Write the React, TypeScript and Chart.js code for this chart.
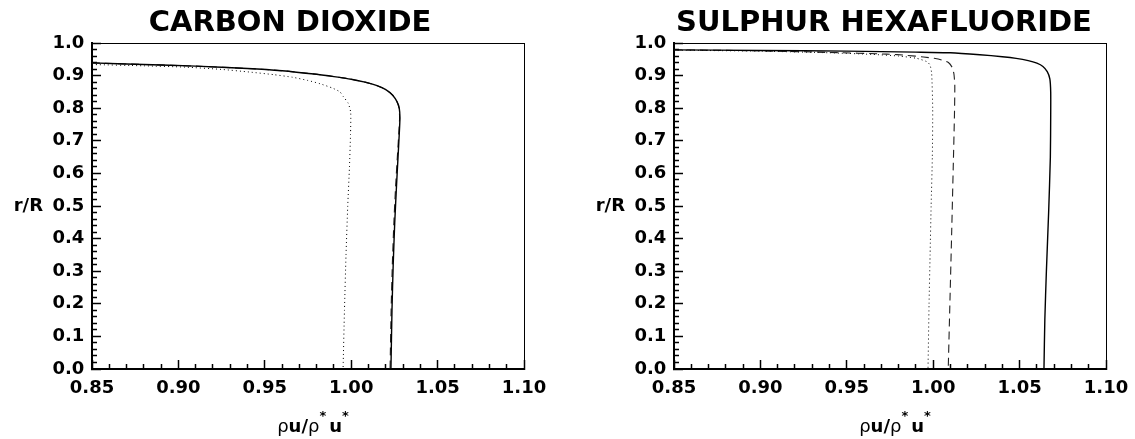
import React, { useEffect, useRef } from "react";
import { Chart, registerables } from "chart.js";

Chart.register(...registerables);

// ---------- tick labels ----------
const xMajorTicks = [0.85, 0.9, 0.95, 1.0, 1.05, 1.1];
const xTickLabels = ["0.85", "0.90", "0.95", "1.00", "1.05", "1.10"];
const yMajorTicks = [0, 0.1, 0.2, 0.3, 0.4, 0.5, 0.6, 0.7, 0.8, 0.9, 1.0];
const yTickLabels = ["0.0", "0.1", "0.2", "0.3", "0.4", "0.5", "0.6", "0.7", "0.8", "0.9", "1.0"];

// ---------- CARBON DIOXIDE ----------
const co2SolidX = [0.85, 0.88, 0.91, 0.94, 0.96, 0.98, 0.99, 1.0, 1.008, 1.015, 1.02, 1.024, 1.0265, 1.0278, 1.0282, 1.0278, 1.0271, 1.0262, 1.0252, 1.0243, 1.0236, 1.023];
const co2SolidR = [0.939, 0.934, 0.929, 0.922, 0.915, 0.904, 0.897, 0.889, 0.88, 0.869, 0.857, 0.84, 0.82, 0.8, 0.77, 0.72, 0.65, 0.56, 0.45, 0.32, 0.18, 0.0];
const co2DashedX = [0.85, 0.88, 0.91, 0.94, 0.96, 0.98, 0.99, 1.0, 1.008, 1.015, 1.02, 1.024, 1.0265, 1.0277, 1.028, 1.0275, 1.0267, 1.0257, 1.0247, 1.0238, 1.0231, 1.0225];
const co2DashedR = [0.939, 0.934, 0.929, 0.922, 0.915, 0.904, 0.897, 0.889, 0.88, 0.869, 0.857, 0.84, 0.82, 0.8, 0.77, 0.72, 0.65, 0.56, 0.45, 0.32, 0.18, 0.0];
const co2DottedX = [0.85, 0.88, 0.904, 0.925, 0.941, 0.955, 0.966, 0.975, 0.982, 0.989, 0.9935, 0.9955, 0.9983, 0.9997, 0.9996, 0.999, 0.998, 0.997, 0.9961, 0.9953];
const co2DottedR = [0.934, 0.93, 0.926, 0.919, 0.911, 0.903, 0.895, 0.885, 0.875, 0.862, 0.85, 0.835, 0.815, 0.787, 0.72, 0.62, 0.5, 0.35, 0.18, 0.0];

// ---------- SULPHUR HEXAFLUORIDE ----------
const sf6SolidX = [0.85, 0.9, 0.95, 0.99, 1.01, 1.027, 1.04, 1.048, 1.055, 1.06, 1.0635, 1.066, 1.0675, 1.068, 1.068, 1.0678, 1.0668, 1.0655, 1.0646, 1.0641];
const sf6SolidR = [0.979, 0.977, 0.975, 0.972, 0.97, 0.964, 0.958, 0.953, 0.946, 0.938, 0.928, 0.912, 0.89, 0.85, 0.78, 0.65, 0.48, 0.3, 0.15, 0.0];
const sf6DashedX = [0.85, 0.9, 0.94, 0.973, 0.985, 0.9944, 1.0005, 1.0049, 1.0088, 1.011, 1.012, 1.0125, 1.0123, 1.0116, 1.0107, 1.0097, 1.0087];
const sf6DashedR = [0.979, 0.976, 0.971, 0.966, 0.962, 0.957, 0.953, 0.948, 0.94, 0.925, 0.905, 0.87, 0.78, 0.62, 0.42, 0.21, 0.0];
const sf6DottedX = [0.85, 0.9, 0.94, 0.965, 0.98, 0.9904, 0.9962, 0.9981, 0.9991, 0.9997, 0.9995, 0.9988, 0.9982, 0.9976, 0.997];
const sf6DottedR = [0.978, 0.975, 0.97, 0.965, 0.96, 0.953, 0.943, 0.933, 0.907, 0.8, 0.65, 0.5, 0.35, 0.2, 0.0];

const FONT = "DejaVu Sans";

type Panel = {
  title: string;
  canvasLeft: number;
  canvasWidth: number;
  plotLeft: number;
  plotRight: number;
  solid: [number[], number[]];
  dashed: [number[], number[]];
  dotted: [number[], number[]];
};

// The title is centred over the whole canvas; the canvas width is chosen so
// that the centre matches the reference, and a zero-drawing right axis pads the plot.
const panels: Panel[] = [
  {
    title: "CARBON DIOXIDE",
    canvasLeft: 0,
    canvasWidth: 580,
    plotLeft: 92,
    plotRight: 524,
    solid: [co2SolidX, co2SolidR],
    dashed: [co2DashedX, co2DashedR],
    dotted: [co2DottedX, co2DottedR],
  },
  {
    title: "SULPHUR HEXAFLUORIDE",
    canvasLeft: 580,
    canvasWidth: 608,
    plotLeft: 674,
    plotRight: 1106,
    solid: [sf6SolidX, sf6SolidR],
    dashed: [sf6DashedX, sf6DashedR],
    dotted: [sf6DottedX, sf6DottedR],
  },
];

const HEIGHT = 439;
const PLOT_BOTTOM = 369;

const toPoints = (xs: number[], ys: number[]) => xs.map((x, i) => ({ x, y: ys[i] }));
const isMajor = (v: number, majors: number[]) => majors.some((m) => Math.abs(m - v) < 1e-6);

const labelPlugin = {
  id: "axisLabels",
  afterDraw(chart: any) {
    const { ctx, chartArea, scales } = chart;
    ctx.save();
    ctx.fillStyle = "#000";
    // y label
    ctx.font = `bold 18px ${FONT}`;
    ctx.textAlign = "right";
    ctx.textBaseline = "middle";
    ctx.fillText("r/R", chartArea.left - 49, scales.y.getPixelForValue(0.5));
    // x label: ρu/ρ*u*
    const base = 432;
    const parts = [
      { t: "ρ", f: `18px ${FONT}`, dy: 0, gap: 0 },
      { t: "u/", f: `bold 18px ${FONT}`, dy: 0, gap: 0 },
      { t: "ρ", f: `18px ${FONT}`, dy: 0, gap: 0 },
      { t: "*", f: `bold 13px ${FONT}`, dy: -12, gap: 3 },
      { t: "u", f: `bold 18px ${FONT}`, dy: 0, gap: 0 },
      { t: "*", f: `bold 13px ${FONT}`, dy: -12, gap: 0 },
    ];
    let total = 0;
    const widths = parts.map((p) => {
      ctx.font = p.f;
      const w = ctx.measureText(p.t).width;
      total += w + p.gap;
      return w;
    });
    let x = (chartArea.left + chartArea.right) / 2 + 5 - total / 2;
    ctx.textAlign = "left";
    ctx.textBaseline = "alphabetic";
    parts.forEach((p, i) => {
      ctx.font = p.f;
      ctx.fillText(p.t, x, base + p.dy);
      x += widths[i] + p.gap;
    });
    ctx.restore();
  },
};

function PanelChart({ panel }: { panel: Panel }) {
  const ref = useRef<HTMLCanvasElement | null>(null);
  useEffect(() => {
    if (!ref.current) return;
    const W = panel.canvasWidth;
    const yWidth = panel.plotLeft - panel.canvasLeft;
    const rightWidth = W - (panel.plotRight - panel.canvasLeft);

    const chart = new Chart(ref.current, {
      type: "scatter",
      data: {
        datasets: [
          {
            label: "solid",
            data: toPoints(panel.solid[0], panel.solid[1]),
            showLine: true,
            borderColor: "#000",
            borderWidth: 1.4,
            pointRadius: 0,
            tension: 0.2,
            fill: false,
          },
          {
            label: "dashed",
            data: toPoints(panel.dashed[0], panel.dashed[1]),
            showLine: true,
            borderColor: "#222",
            borderWidth: 1.1,
            borderDash: [8, 5],
            pointRadius: 0,
            tension: 0.2,
            fill: false,
          },
          {
            label: "dotted",
            data: toPoints(panel.dotted[0], panel.dotted[1]),
            showLine: true,
            borderColor: "#000",
            borderWidth: 1,
            borderDash: [1, 3],
            pointRadius: 0,
            tension: 0.2,
            fill: false,
          },
        ],
      },
      options: {
        animation: false,
        responsive: false,
        devicePixelRatio: 1,
        events: [],
        layout: { padding: 0 },
        plugins: {
          legend: { display: false },
          tooltip: { enabled: false },
          title: {
            display: true,
            text: panel.title,
            color: "#000",
            font: { family: FONT, size: 29, weight: "bold", lineHeight: 1.2 },
            padding: { top: 6, bottom: 2.2 },
          },
        },
        scales: {
          x: {
            type: "linear",
            position: "bottom",
            min: 0.85,
            max: 1.1,
            afterFit: (s: any) => {
              s.height = HEIGHT - PLOT_BOTTOM;
            },
            border: { display: true, color: "#000", width: 2 },
            grid: {
              display: true,
              drawOnChartArea: false,
              drawTicks: true,
              tickLength: -9,
              tickColor: "#000",
              tickWidth: 1.5,
              tickBorderDash: (ctx: any) => (isMajor(ctx.tick?.value ?? 0, xMajorTicks) ? [] : [6, 100]),
            },
            ticks: {
              stepSize: 0.01,
              autoSkip: false,
              maxRotation: 0,
              minRotation: 0,
              padding: 17.8,
              color: "#000",
              font: { family: FONT, size: 18, weight: "bold" },
              callback: (v: any) => {
                const i = xMajorTicks.findIndex((m) => Math.abs(m - Number(v)) < 1e-6);
                return i >= 0 ? xTickLabels[i] : "";
              },
            },
          },
          y: {
            type: "linear",
            position: "left",
            min: 0,
            max: 1,
            afterFit: (s: any) => {
              s.width = yWidth;
            },
            border: { display: true, color: "#000", width: 2 },
            grid: {
              display: true,
              drawOnChartArea: false,
              drawTicks: true,
              tickLength: -9,
              tickColor: "#000",
              tickWidth: 1.5,
              tickBorderDash: (ctx: any) => (isMajor(ctx.tick?.value ?? 0, yMajorTicks) ? [] : [0, 4, 6, 100]),
            },
            ticks: {
              stepSize: 0.02,
              autoSkip: false,
              padding: 16.7,
              color: "#000",
              font: { family: FONT, size: 18, weight: "bold" },
              callback: (v: any) => {
                const i = yMajorTicks.findIndex((m) => Math.abs(m - Number(v)) < 1e-6);
                return i >= 0 ? yTickLabels[i] : "";
              },
            },
          },
          xTop: {
            type: "linear",
            position: "top",
            min: 0.85,
            max: 1.1,
            afterFit: (s: any) => {
              s.height = 0;
            },
            border: { display: true, color: "#000", width: 1 },
            grid: { display: false, drawTicks: false },
            ticks: { display: false },
          },
          yRight: {
            type: "linear",
            position: "right",
            min: 0,
            max: 1,
            afterFit: (s: any) => {
              s.width = rightWidth;
            },
            border: { display: true, color: "#000", width: 1 },
            grid: { display: false, drawTicks: false },
            ticks: { display: false },
          },
        },
      } as any,
      plugins: [labelPlugin],
    });
    return () => chart.destroy();
  }, [panel]);

  return (
    <canvas
      ref={ref}
      width={panel.canvasWidth}
      height={HEIGHT}
      style={{
        position: "absolute",
        left: panel.canvasLeft,
        top: 0,
        width: panel.canvasWidth,
        height: HEIGHT,
      }}
    />
  );
}

export default function App() {
  return (
    <div
      style={{
        position: "absolute",
        left: 0,
        top: 0,
        width: 1135,
        height: HEIGHT,
        background: "#fff",
        overflow: "hidden",
      }}
    >
      {panels.map((p) => (
        <PanelChart key={p.title} panel={p} />
      ))}
    </div>
  );
}
